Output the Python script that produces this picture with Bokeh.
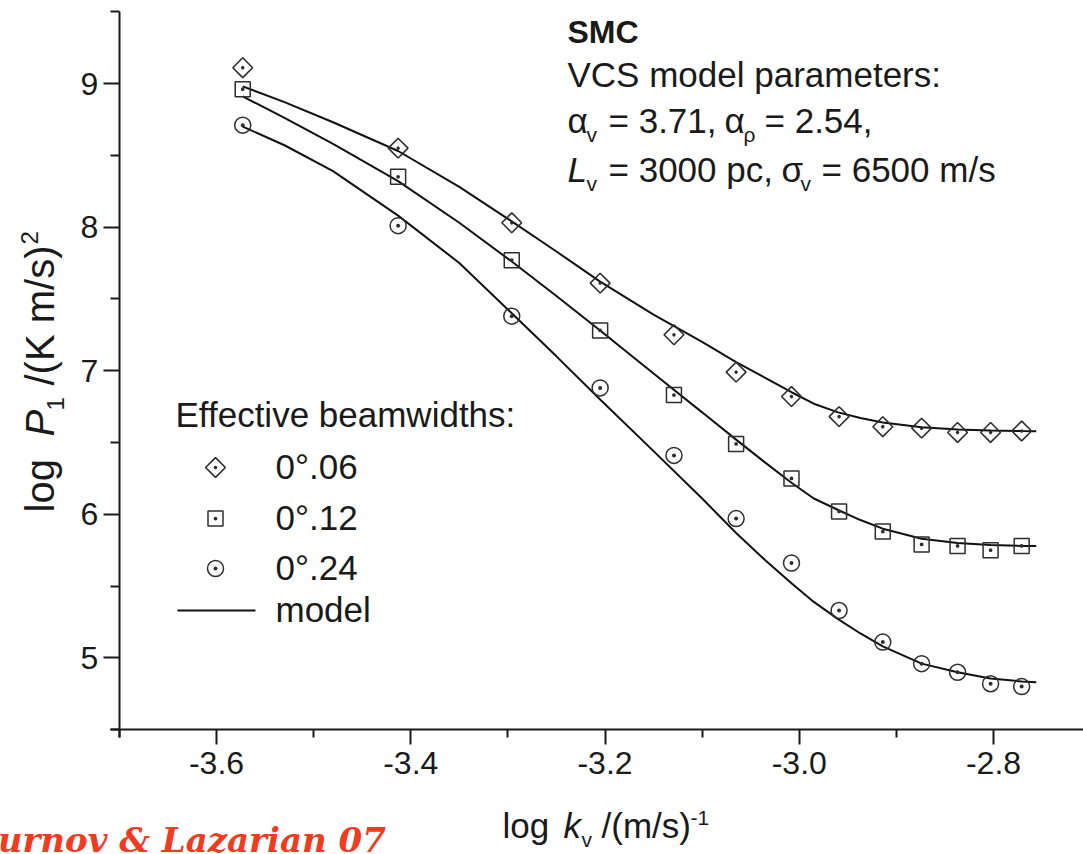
import math
from bokeh.plotting import figure
from bokeh.models import Label, Range1d, FixedTicker
from bokeh.embed import file_html
from bokeh.resources import INLINE

# ---------------- data ----------------
log_k = [-3.573, -3.413, -3.296, -3.205, -3.129, -3.065, -3.008,
         -2.959, -2.914, -2.874, -2.837, -2.803, -2.771]
p1_beam006 = [9.11, 8.55, 8.03, 7.61, 7.25, 6.99, 6.82, 6.68, 6.61, 6.60, 6.57, 6.57, 6.58]
p1_beam012 = [8.96, 8.35, 7.77, 7.28, 6.83, 6.49, 6.25, 6.02, 5.88, 5.79, 5.78, 5.75, 5.78]
p1_beam024 = [8.71, 8.01, 7.38, 6.88, 6.41, 5.97, 5.66, 5.33, 5.11, 4.96, 4.90, 4.82, 4.80]

model_k = [-3.573, -3.53, -3.48, -3.413, -3.35, -3.296, -3.25, -3.205, -3.15, -3.10,
           -3.065, -3.035, -3.008, -2.985, -2.960, -2.937, -2.914, -2.874, -2.837,
           -2.803, -2.771, -2.756]
model_006 = [8.98, 8.87, 8.73, 8.53, 8.28, 8.04, 7.83, 7.62, 7.39, 7.20,
             7.06, 6.95, 6.85, 6.77, 6.71, 6.67, 6.64, 6.607, 6.59,
             6.584, 6.58, 6.579]
model_012 = [8.91, 8.76, 8.58, 8.32, 8.03, 7.76, 7.52, 7.28, 6.98, 6.71,
             6.52, 6.36, 6.22, 6.11, 6.03, 5.96, 5.90, 5.83, 5.80,
             5.786, 5.78, 5.78]
model_024 = [8.70, 8.57, 8.39, 8.08, 7.75, 7.40, 7.10, 6.80, 6.44, 6.11,
             5.87, 5.68, 5.52, 5.39, 5.27, 5.17, 5.08, 4.96, 4.90,
             4.856, 4.836, 4.83]

beam_title = "Effective beamwidths:"
beam_labels = ["0°.06", "0°.12", "0°.24"]
model_label = "model"
x_ticks = [-3.6, -3.4, -3.2, -3.0, -2.8]
x_tick_labels = ["-3.6", "-3.4", "-3.2", "-3.0", "-2.8"]
x_minor = [-3.7, -3.5, -3.3, -3.1, -2.9, -2.7]
y_ticks = [5, 6, 7, 8, 9]
y_tick_labels = ["5", "6", "7", "8", "9"]
y_minor = [4.5, 5.5, 6.5, 7.5, 8.5, 9.5]

# ---------------- layout: page pixel <-> data ----------------
W, H = 1083, 854
SX, SY = 971.25, 143.6            # pixels per unit
X0 = -3.6 - 216 / SX               # data x at page pixel 0
X1 = X0 + W / SX
Y1 = 9 + 83 / SY                   # data y at page pixel 0 (top)
Y0 = Y1 - H / SY


def px_x(X):
    return X0 + X / SX


def px_y(Y):
    return Y1 - Y / SY


p = figure(width=W, height=H, x_range=Range1d(X0, X1), y_range=Range1d(Y0, Y1),
           output_backend="svg", toolbar_location=None, min_border=0)
p.grid.visible = False
p.outline_line_color = None
p.background_fill_color = "white"
p.border_fill_color = "white"

INK = "#1a1a1a"
xa, ya = p.xaxis[0], p.yaxis[0]
xa.fixed_location = 4.5
ya.fixed_location = -3.7
xa.bounds = (px_x(110), -2.7)
ya.bounds = (px_y(737), 9.5)
xa.ticker = FixedTicker(ticks=x_ticks, minor_ticks=x_minor)
ya.ticker = FixedTicker(ticks=y_ticks, minor_ticks=y_minor)
xa.major_label_overrides = dict(zip(x_ticks, x_tick_labels))
ya.major_label_overrides = dict(zip(y_ticks, y_tick_labels))
for ax in (xa, ya):
    ax.axis_line_width = 2
    ax.axis_line_color = INK
    ax.major_tick_line_width = 2
    ax.minor_tick_line_width = 2
    ax.major_tick_line_color = INK
    ax.minor_tick_line_color = INK
    ax.major_tick_in = 0
    ax.minor_tick_in = 0
    ax.major_label_text_font = "Liberation Sans"
    ax.major_label_text_font_size = "32px"
    ax.major_label_text_color = INK
xa.major_tick_out = 15
xa.minor_tick_out = 8
xa.major_label_standoff = 7
ya.major_tick_out = 16
ya.minor_tick_out = 9
ya.major_label_standoff = 5

# ---------------- model curves ----------------
LINE = "#111111"
for ys in (model_006, model_012, model_024):
    p.line(model_k, ys, line_color=LINE, line_width=2)

# ---------------- data points ----------------
MK = "#2e2e2e"
DIAM = dict(marker="square_dot", angle=math.pi / 4, size=14, line_color=MK,
            line_width=1.6, fill_color=None)
SQ = dict(marker="square_dot", size=15, line_color=MK, line_width=1.5, fill_color=None)
CI = dict(marker="circle_dot", size=16, line_color=MK, line_width=1.5, fill_color=None)
p.scatter(log_k, p1_beam006, **DIAM)
p.scatter(log_k, p1_beam012, **SQ)
p.scatter(log_k, p1_beam024, **CI)

# Bokeh's alphabetic baseline lands ~0.37 em below the anchor: compensate
SHIFT = 0.37


def lab(X, Y, text, size=35, style="normal", font="Liberation Sans", color=INK):
    p.add_layout(Label(x=px_x(X), y=px_y(Y - SHIFT * size), text=text,
                       text_font=font, text_font_size=f"{size}px", text_font_style=style,
                       text_color=color, text_align="left", text_baseline="alphabetic"))


def vlab(X, Y, text, size=35, style="normal"):
    # rotated text reading upward; X is the baseline column, Y the start
    p.add_layout(Label(x=px_x(X - SHIFT * size), y=px_y(Y), text=text, angle=math.pi / 2,
                       text_font="Liberation Sans", text_font_size=f"{size}px",
                       text_font_style=style, text_color=INK, text_align="left",
                       text_baseline="alphabetic"))


# legend (drawn by hand: title, samples, labels)
lab(175, 427, beam_title)
for (style, yy, txt) in ((DIAM, 467, beam_labels[0]), (SQ, 518, beam_labels[1]),
                         (CI, 568, beam_labels[2])):
    p.scatter([px_x(215)], [px_y(yy)], **style)
    lab(275, yy + 12, txt)
p.line([px_x(177), px_x(255)], [px_y(610), px_y(610)], line_color=LINE, line_width=2)
lab(275, 622, model_label)

# annotation block
lab(567, 43, "SMC", 32, "bold")
lab(567, 87, "VCS model parameters:")
B3, B4 = 133, 182
lab(567, B3, "α")
lab(586, B3 + 9, "v", 21)
lab(608, B3, "= 3.71,")
lab(724, B3, "α")
lab(743, B3 + 9, "ρ", 21)
lab(764, B3, "= 2.54,")
lab(567, B4, "L", 35, "italic")
lab(586, B4 + 9, "v", 21)
lab(608, B4, "= 3000 pc,")
lab(781, B4, "σ")
lab(800, B4 + 9, "v", 21)
lab(821, B4, "= 6500 m/s")

# x axis title
XB = 838
lab(502, XB, "log")
lab(563, XB, "k", 35, "italic")
lab(581, XB + 9, "v", 21)
lab(601, XB, "/(m/s)")
lab(690, XB - 13, "-1", 21)

# y axis title (rotated, reading upward)
YX, S, F = 54, 512, 40
vlab(YX, S, "log", F)
vlab(YX, S - 76, "P", F, "italic")
vlab(YX + 10, S - 102, "1", 24)
vlab(YX, S - 127, "/(K m/s)", F)
vlab(YX - 16, S - 268, "2", 24)

# credit (cut at the left edge, as in the source)
lab(-100, 852, "Chepurnov & Lazarian 07", 34, "bold italic", font="DejaVu Serif",
    color="#f23a1e")

open("out.html", "w").write(file_html(p, INLINE))
